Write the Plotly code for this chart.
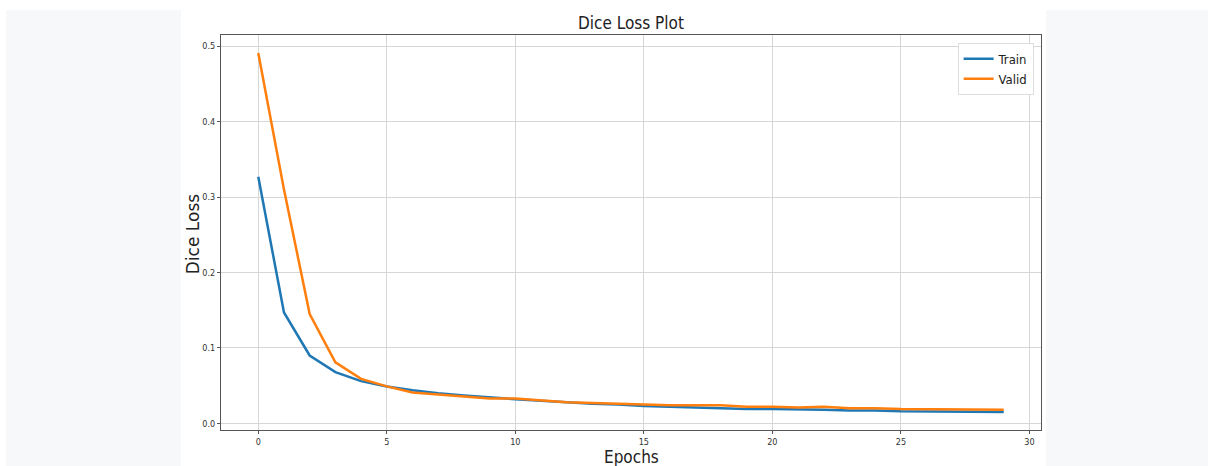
import plotly.graph_objects as go

epochs = list(range(30))
train_loss = [0.327, 0.147, 0.090, 0.068, 0.056, 0.049, 0.044, 0.040, 0.037, 0.034,
              0.032, 0.030, 0.028, 0.026, 0.025, 0.023, 0.022, 0.021, 0.020, 0.019,
              0.019, 0.018, 0.018, 0.017, 0.017, 0.016, 0.016, 0.016, 0.016, 0.015]
valid_loss = [0.491, 0.310, 0.145, 0.081, 0.059, 0.049, 0.041, 0.038, 0.035, 0.033,
              0.033, 0.030, 0.028, 0.027, 0.026, 0.025, 0.024, 0.024, 0.024, 0.022,
              0.022, 0.021, 0.022, 0.020, 0.020, 0.019, 0.019, 0.019, 0.019, 0.018]
x_ticks = [0, 5, 10, 15, 20, 25, 30]
y_ticks = [0.0, 0.1, 0.2, 0.3, 0.4, 0.5]

NARROW = "DejaVu Sans Condensed, Liberation Sans Narrow, DejaVu Sans, sans-serif"
REG = "DejaVu Sans, sans-serif"

fig = go.Figure()
fig.add_trace(go.Scatter(x=epochs, y=train_loss, mode="lines", name="Train",
                         line=dict(color="#1f77b4", width=2.5)))
fig.add_trace(go.Scatter(x=epochs, y=valid_loss, mode="lines", name="Valid",
                         line=dict(color="#ff7f0e", width=2.5)))

axis_common = dict(showline=True, mirror=True, linecolor="#555555", linewidth=1,
                   ticks="outside", ticklen=3, tickcolor="#555555", tickwidth=1,
                   showgrid=True, gridcolor="#d6d6d6", gridwidth=1, zeroline=False,
                   tickfont=dict(family=NARROW, size=9, color="#333333"))

fig.update_xaxes(range=[-1.45, 30.45], tickvals=x_ticks, **axis_common)
fig.update_yaxes(range=[-0.0088, 0.515], tickvals=y_ticks, tickformat=".1f", **axis_common)

fig.update_layout(
    width=1208, height=466,
    margin=dict(l=221, r=167, t=35, b=36),
    paper_bgcolor="white",
    plot_bgcolor="white",
    showlegend=True,
    legend=dict(x=0.991, y=0.98, xanchor="right", yanchor="top",
                bgcolor="white", bordercolor="#dddddd", borderwidth=1,
                font=dict(family=NARROW, size=13, color="#222222"),
                itemwidth=30, tracegroupgap=2),
    shapes=[
        dict(type="rect", xref="paper", yref="paper",
             x0=-0.2622, x1=1.2037, y0=-0.0911, y1=1.0633,
             fillcolor="#f7f8fa", line=dict(width=0), layer="below"),
        dict(type="rect", xref="paper", yref="paper",
             x0=-0.0488, x1=1.0061, y0=-0.0911, y1=1.0633,
             fillcolor="white", line=dict(width=0), layer="below"),
    ],
    annotations=[
        dict(text="Dice Loss Plot", xref="paper", yref="paper", x=0.5, y=1.03,
             xanchor="center", yanchor="middle", showarrow=False,
             font=dict(family=NARROW, size=17, color="#222222")),
        dict(text="Epochs", xref="paper", yref="paper", x=0.5, y=-0.068,
             xanchor="center", yanchor="middle", showarrow=False,
             font=dict(family=NARROW, size=17, color="#222222")),
        dict(text="Dice Loss", xref="paper", yref="paper", x=-0.034, y=0.496,
             xanchor="center", yanchor="middle", showarrow=False, textangle=-90,
             font=dict(family=REG, size=17, color="#222222")),
    ],
)

fig.write_html("out.html", config={"displayModeBar": False},
               post_script="document.body.style.margin='0';document.body.style.overflow='hidden';")
